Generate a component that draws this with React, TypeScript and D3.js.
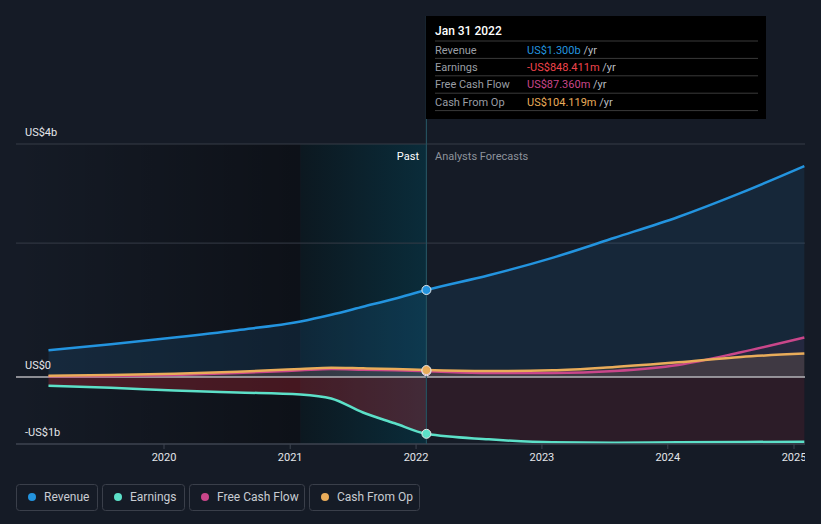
import React, { useEffect } from "react";
import * as d3 from "d3";

const dates = [
  "2019-01-31", "2019-07-31", "2020-01-31", "2020-07-31", "2021-01-31", "2021-04-30",
  "2021-07-31", "2021-10-31", "2022-01-31", "2022-07-31", "2023-01-31", "2023-07-31",
  "2024-01-31", "2024-07-31", "2025-01-31",
];
const revenue = [0.4, 0.49, 0.59, 0.7, 0.83, 0.93, 1.05, 1.17, 1.3, 1.52, 1.78, 2.08, 2.39, 2.75, 3.15];
const earnings = [-0.13, -0.16, -0.2, -0.23, -0.26, -0.32, -0.53, -0.69, -0.848, -0.93, -0.975, -0.98, -0.975, -0.97, -0.965];
const freeCashFlow = [0.01, 0.015, 0.03, 0.06, 0.1, 0.12, 0.11, 0.1, 0.087, 0.06, 0.06, 0.09, 0.18, 0.37, 0.59];
const cashFromOp = [0.02, 0.03, 0.05, 0.08, 0.12, 0.14, 0.13, 0.12, 0.104, 0.09, 0.1, 0.15, 0.22, 0.3, 0.35];

const yearTicks = [2020, 2021, 2022, 2023, 2024, 2025];
const yGrid = [3.48, 2];
const yLabels = [
  { v: 3.48, text: "US$4b" },
  { v: 0, text: "US$0" },
  { v: -1, text: "-US$1b" },
];
const pastStart = "2021-01-31";
const nowDate = "2022-01-31";
const tooltipTitle = "Jan 31 2022";
const tooltipRows = [
  { label: "Revenue", value: "US$1.300b", color: "#2394df" },
  { label: "Earnings", value: "-US$848.411m", color: "#f0444c" },
  { label: "Free Cash Flow", value: "US$87.360m", color: "#c9468a" },
  { label: "Cash From Op", value: "US$104.119m", color: "#e9ac5a" },
];
const legendItems = [
  { label: "Revenue", color: "#2394df" },
  { label: "Earnings", color: "#5ce0c8" },
  { label: "Free Cash Flow", color: "#c9468a" },
  { label: "Cash From Op", color: "#e9ac5a" },
];

const C = {
  bg: "#151b26",
  revenue: "#2394df",
  earnings: "#5ce0c8",
  fcf: "#c9468a",
  cash: "#e9ac5a",
};

type P = { d: Date; v: number };

export default function App() {
  useEffect(() => {
    document.body.style.margin = "0";
    document.body.style.background = C.bg;
  }, []);
  const W = 821, H = 524;
  const parse = (s: string) => new Date(s + "T00:00:00");
  const x = d3.scaleTime()
    .domain([new Date(2020, 0, 1), new Date(2025, 0, 1)])
    .range([164, 794]);
  const y = d3.scaleLinear().domain([-1, 3.48]).range([444, 144]);
  const plotLeft = 16, plotRight = 805, plotTop = 144, plotBottom = 444;

  const series = (vals: number[]): P[] => dates.map((s, i) => ({ d: parse(s), v: vals[i] }));
  const rev = series(revenue), earn = series(earnings), fcf = series(freeCashFlow), cash = series(cashFromOp);

  const line = d3.line<P>().x(p => x(p.d)).y(p => y(p.v)).curve(d3.curveMonotoneX);
  const area = d3.area<P>().x(p => x(p.d)).y0(y(0)).y1(p => y(p.v)).curve(d3.curveMonotoneX);

  const xPast = x(parse(pastStart));
  const xNow = x(parse(nowDate));
  const iNow = dates.indexOf(nowDate);

  const font = "Roboto, 'Noto Sans', sans-serif";

  const legendWidths = [81, 82, 115, 110];
  let lx = 16;
  const legendPos = legendWidths.map(w => { const p = lx; lx += w + 5; return p; });

  return (
    <div style={{ width: W, height: H, background: C.bg }}>
      <svg width={W} height={H} style={{ display: "block", fontFamily: font }}>
        <defs>
          <linearGradient id="darkBand" x1="0" x2="1" y1="0" y2="0">
            <stop offset="0" stopColor="#000" stopOpacity={0} />
            <stop offset="1" stopColor="#000" stopOpacity={0.38} />
          </linearGradient>
          <linearGradient id="pastBand" x1="0" x2="1" y1="0" y2="0">
            <stop offset="0" stopColor="#0c1820" />
            <stop offset="1" stopColor="#0a2c3a" />
          </linearGradient>
          <clipPath id="pastClip">
            <rect x={0} y={0} width={xNow} height={H} />
          </clipPath>
          <clipPath id="futClip">
            <rect x={xNow} y={0} width={W - xNow} height={H} />
          </clipPath>
          <clipPath id="axisClip">
            <rect x={0} y={0} width={plotRight} height={H} />
          </clipPath>
        </defs>
        <rect width={W} height={H} fill={C.bg} />

        <rect x={plotLeft} y={plotTop} width={xPast - plotLeft} height={plotBottom - plotTop} fill="url(#darkBand)" />
        <rect x={xPast} y={plotTop} width={xNow - xPast} height={plotBottom - plotTop} fill="url(#pastBand)" />

        {yGrid.map(v => (
          <line key={v} x1={plotLeft} x2={plotRight} y1={y(v)} y2={y(v)} stroke="#363c47" strokeWidth={1} />
        ))}

        <g clipPath="url(#pastClip)">
          <path d={area(rev) || ""} fill={C.revenue} fillOpacity={0.13} />
          <path d={area(earn) || ""} fill="#c82836" fillOpacity={0.3} />
          <path d={area(cash) || ""} fill={C.cash} fillOpacity={0.12} />
          <path d={area(fcf) || ""} fill={C.fcf} fillOpacity={0.08} />
        </g>
        <g clipPath="url(#futClip)">
          <path d={area(rev) || ""} fill={C.revenue} fillOpacity={0.1} />
          <path d={area(earn) || ""} fill="#c82836" fillOpacity={0.13} />
          <path d={area(cash) || ""} fill={C.cash} fillOpacity={0.14} />
          <path d={area(fcf) || ""} fill={C.fcf} fillOpacity={0.08} />
        </g>

        <line x1={plotLeft} x2={plotRight} y1={y(0)} y2={y(0)} stroke="#b4b4b8" strokeWidth={1.4} />

        <path d={line(earn) || ""} fill="none" stroke={C.earnings} strokeWidth={2.5} />
        <path d={line(fcf) || ""} fill="none" stroke={C.fcf} strokeWidth={2.5} />
        <path d={line(cash) || ""} fill="none" stroke={C.cash} strokeWidth={2.5} />
        <path d={line(rev) || ""} fill="none" stroke={C.revenue} strokeWidth={2.5} />

        <line x1={plotLeft} x2={plotRight} y1={plotBottom} y2={plotBottom} stroke="#3e4450" strokeWidth={1.5} />
        <g clipPath="url(#axisClip)">
          {yearTicks.map(t => {
            const tx = x(new Date(t, 0, 1));
            return (
              <g key={t}>
                <line x1={tx} x2={tx} y1={plotBottom} y2={plotBottom + 5} stroke="#3e4450" strokeWidth={1} />
                <text x={tx} y={461} textAnchor="middle" fontSize={11} fill="#e4e6ea">{t}</text>
              </g>
            );
          })}
        </g>

        {yLabels.map(l => (
          <text key={l.text} x={25} y={y(l.v) - 8} fontSize={11} fill="#e4e6ea">{l.text}</text>
        ))}

        <text x={419} y={160} textAnchor="end" fontSize={11} fill="#ffffff">Past</text>
        <text x={435} y={160} fontSize={11} fill="#8d929b">Analysts Forecasts</text>

        <line x1={xNow} x2={xNow} y1={16} y2={plotBottom} stroke="#24505e" strokeWidth={1.2} />

        {[
          { v: fcf[iNow].v, c: C.fcf },
          { v: cash[iNow].v, c: C.cash },
          { v: rev[iNow].v, c: C.revenue },
          { v: earn[iNow].v, c: C.earnings },
        ].map((p, i) => (
          <circle key={i} cx={xNow} cy={y(p.v)} r={4.5} fill={p.c} stroke="#e8e8e8" strokeWidth={1} />
        ))}

        <rect x={426} y={16} width={340} height={103} fill="#000" />
        <text x={435} y={35} fontSize={12} fill="#fff" fontWeight={500}>{tooltipTitle}</text>
        {tooltipRows.map((r, i) => {
          const ty = 41 + i * 17.4;
          return (
            <g key={r.label}>
              <line x1={435} x2={758} y1={ty} y2={ty} stroke="#3a3a3a" strokeWidth={1} />
              <text x={435} y={ty + 12.5} fontSize={11} fill="#9a9ea5">{r.label}</text>
              <text x={527} y={ty + 12.5} fontSize={11} fill={r.color}>
                {r.value}<tspan fill="#b8bcc2"> /yr</tspan>
              </text>
            </g>
          );
        })}
        <line x1={435} x2={758} y1={41 + 4 * 17.4} y2={41 + 4 * 17.4} stroke="#3a3a3a" strokeWidth={1} />

        {legendItems.map((it, i) => (
          <g key={it.label} transform={`translate(${legendPos[i]},484)`}>
            <rect x={0.5} y={0.5} width={legendWidths[i]} height={26} rx={3} fill="none" stroke="#3a3f4a" />
            <circle cx={16} cy={13} r={4} fill={it.color} />
            <text x={28} y={17} fontSize={12} fill="#c8ccd2">{it.label}</text>
          </g>
        ))}
      </svg>
    </div>
  );
}
